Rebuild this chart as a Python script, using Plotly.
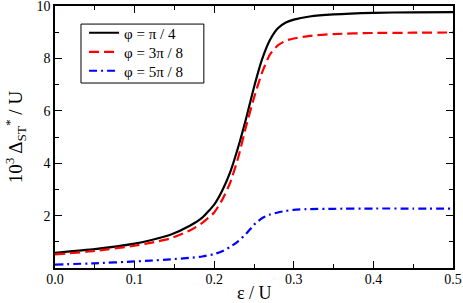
import plotly.graph_objects as go

eps = [0, 0.05, 0.1, 0.12, 0.145, 0.17, 0.185, 0.2, 0.21, 0.22, 0.23, 0.24, 0.25,
       0.26, 0.27, 0.28, 0.29, 0.3, 0.32, 0.35, 0.4, 0.45, 0.5]
phi_pi4 = [0.58, 0.72, 0.93, 1.06, 1.27, 1.62, 1.92, 2.42, 2.95, 3.65, 4.6, 5.7, 6.9,
           7.95, 8.7, 9.15, 9.37, 9.48, 9.6, 9.68, 9.74, 9.76, 9.77]
phi_3pi8 = [0.52, 0.65, 0.85, 0.96, 1.13, 1.44, 1.72, 2.12, 2.6, 3.25, 4.2, 5.4, 6.5,
            7.45, 8.15, 8.5, 8.68, 8.76, 8.86, 8.93, 8.97, 8.98, 8.99]
phi_5pi8 = [0.13, 0.18, 0.25, 0.28, 0.33, 0.39, 0.44, 0.53, 0.64, 0.8, 1.02, 1.3, 1.65,
            1.9, 2.04, 2.12, 2.18, 2.22, 2.25, 2.26, 2.27, 2.27, 2.27]

names = ["φ = π / 4", "φ = 3π / 8", "φ = 5π / 8"]
series = [phi_pi4, phi_3pi8, phi_5pi8]
colors = ["black", "red", "blue"]
dashes = ["solid", "10px,5px", "8px,4px,2px,4px"]
legend_ids = ["legend", "legend2", "legend3"]

xticks = [0, 0.1, 0.2, 0.3, 0.4, 0.5]
yticks = [2, 4, 6, 8, 10]

font_family = "Liberation Serif, Times New Roman, serif"

fig = go.Figure()
for n, s, c, d, lg in zip(names, series, colors, dashes, legend_ids):
    fig.add_trace(go.Scatter(x=eps, y=s, mode="lines", name=n, legend=lg,
                             line=dict(color=c, width=2.2, dash=d, shape="spline", smoothing=0.5)))

legend_rows_y = [0.897, 0.824, 0.752]
legend_common = dict(x=0.073, xanchor="left", yanchor="middle", bgcolor="rgba(0,0,0,0)",
                     borderwidth=0, font=dict(family=font_family, size=15))

fig.update_layout(
    width=463, height=303,
    margin=dict(l=55, r=10, t=6, b=35, autoexpand=False),
    plot_bgcolor="white", paper_bgcolor="white",
    font=dict(family=font_family, size=14, color="black"),
    showlegend=True,
    legend=dict(y=legend_rows_y[0], **legend_common),
    legend2=dict(y=legend_rows_y[1], **legend_common),
    legend3=dict(y=legend_rows_y[2], **legend_common),
    shapes=[dict(type="rect", xref="paper", yref="paper", x0=0.0653, x1=0.374,
                 y0=0.706, y1=0.931, line=dict(color="black", width=1), layer="above")],
    annotations=[dict(text="ε / U", x=0.5, y=0, xref="paper", yref="paper",
                      xanchor="center", yanchor="top", yshift=-13, showarrow=False,
                      font=dict(family=font_family, size=18))],
)
fig.update_xaxes(
    range=[0, 0.5], tickvals=xticks, tickformat=".1f", automargin=False,
    ticklabeloverflow="allow",
    ticks="inside", ticklen=7, tickwidth=1, tickcolor="black",
    showline=True, linecolor="black", linewidth=1.5, mirror="ticks",
    showgrid=False, zeroline=False,
    minor=dict(ticks="inside", ticklen=4, dtick=0.05, tickcolor="black", showgrid=False),
    tickfont=dict(size=14), ticklabelstandoff=-3,
)
fig.update_yaxes(
    range=[0, 10], tickvals=yticks, automargin=False,
    ticklabeloverflow="allow",
    ticks="inside", ticklen=7, tickwidth=1, tickcolor="black",
    showline=True, linecolor="black", linewidth=1.5, mirror="ticks",
    showgrid=False, zeroline=False,
    minor=dict(ticks="inside", ticklen=4, tickvals=[1, 3, 5, 7, 9], tickcolor="black", showgrid=False),
    tickfont=dict(size=14),
    title=dict(text="10<sup>3</sup> Δ<sub>ST</sub><sup>*</sup> / U", font=dict(size=19), standoff=9),
)
fig.write_html("out.html", post_script="document.body.style.margin='0';",
               config={"displayModeBar": False})
